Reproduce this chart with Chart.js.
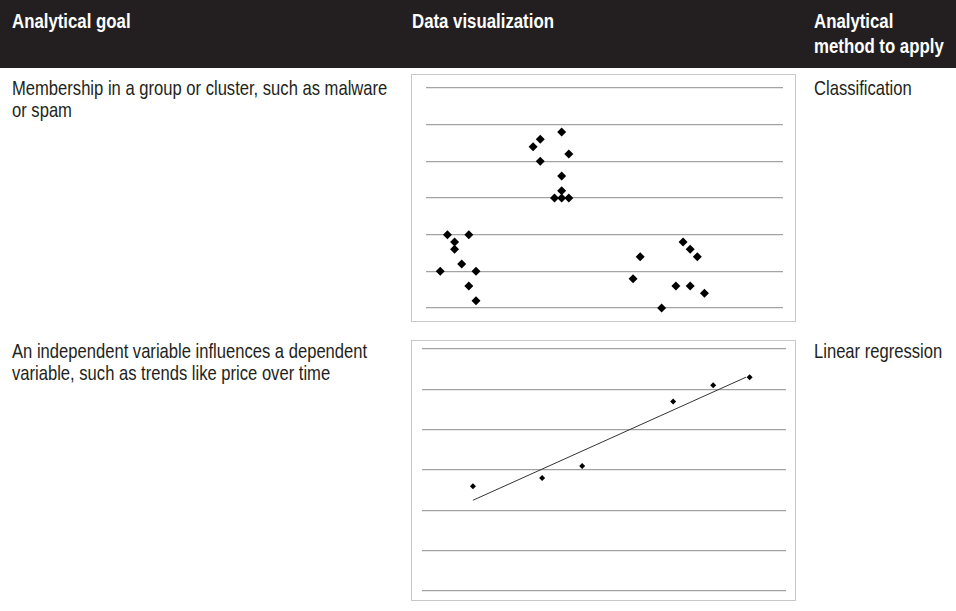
<!DOCTYPE html>
<html>
<head>
<meta charset="utf-8">
<script src="https://cdn.jsdelivr.net/npm/chart.js@4"></script>
<style>
  body { margin: 0; background: #fff; width: 956px; height: 611px; overflow: hidden; position: relative;
         font-family: "Liberation Sans", Arial, sans-serif; color: #231f20; }
  .head { position: absolute; left: 0; top: 0; width: 956px; height: 68px; background: #231f20; }
  .th { position: absolute; color: #fff; font-weight: bold; font-size: 21px; line-height: 25px;
        white-space: nowrap; transform: scaleX(0.8); transform-origin: 0 0; }
  .td { position: absolute; font-size: 21px; line-height: 22px;
        white-space: nowrap; transform: scaleX(0.79); transform-origin: 0 0; }
  .box { position: absolute; left: 411px; width: 385px; box-sizing: border-box; border: 1px solid #c9c9c9; }
  .box div { position: absolute; left: 0; top: 0; right: 0; bottom: 0; }
</style>
</head>
<body>
<div class="head"></div>
<div class="th" style="left:12px; top:8px;">Analytical goal</div>
<div class="th" style="left:412px; top:8px;">Data visualization</div>
<div class="th" style="left:814px; top:8px;">Analytical<br>method to apply</div>

<div class="td" style="left:12px; top:77px;">Membership in a group or cluster, such as malware<br>or spam</div>
<div class="td" style="left:814px; top:77px;">Classification</div>
<div class="box" style="top:74px; height:248px;"><div><canvas id="clusterChart"></canvas></div></div>

<div class="td" style="left:12px; top:340px;">An independent variable influences a dependent<br>variable, such as trends like price over time</div>
<div class="td" style="left:814px; top:340px;">Linear regression</div>
<div class="box" style="top:340px; height:261px;"><div><canvas id="regressionChart"></canvas></div></div>

<script>
// classification scatter: three clusters
const clusterX = [2, 3, 6, 4, 4, 5, 7, 6, 7,
                  15, 16, 19, 20, 16, 19, 19, 18, 19, 20,
                  30, 29, 33, 35, 37, 36, 37, 38, 39];
const clusterY = [5, 10, 10, 9, 8, 6, 5, 3, 1,
                  22, 23, 24, 21, 20, 18, 16, 15, 15, 15,
                  7, 4, 0, 3, 3, 9, 8, 7, 2];

// regression scatter + trend line
const priceX = [1.4, 3.3, 4.4, 6.9, 8.0, 9.0];
const priceY = [2.6, 2.8, 3.1, 4.7, 5.1, 5.3];
const trendX = [1.4, 8.9];
const trendY = [2.25, 5.3];

function toPoints(xs, ys) {
  return xs.map((x, i) => ({ x: x, y: ys[i] }));
}

function gridOptions(xMax, yMax, yStep, pad) {
  return {
    responsive: true,
    maintainAspectRatio: false,
    animation: false,
    layout: { padding: pad },
    plugins: { legend: { display: false }, tooltip: { enabled: false } },
    scales: {
      x: { type: "linear", min: 0, max: xMax, display: false },
      y: {
        min: 0, max: yMax,
        ticks: { display: false, stepSize: yStep },
        grid: { color: "#a3a3a3", lineWidth: 1.3, drawTicks: false },
        border: { display: false }
      }
    }
  };
}

new Chart(document.getElementById("clusterChart"), {
  type: "scatter",
  data: {
    datasets: [{
      data: toPoints(clusterX, clusterY),
      pointStyle: "rectRot",
      pointRadius: 4.5,
      backgroundColor: "#000",
      borderColor: "#000",
      borderWidth: 0,
      clip: false
    }]
  },
  options: gridOptions(50, 30, 5, { left: 14, right: 12, top: 13, bottom: 13 })
});

new Chart(document.getElementById("regressionChart"), {
  type: "scatter",
  data: {
    datasets: [
      {
        data: toPoints(priceX, priceY),
        pointStyle: "rectRot",
        pointRadius: 3,
        backgroundColor: "#000",
        borderColor: "#000",
        borderWidth: 0,
        clip: false
      },
      {
        type: "line",
        data: toPoints(trendX, trendY),
        borderColor: "#333",
        borderWidth: 1,
        pointRadius: 0,
        fill: false,
        clip: false
      }
    ]
  },
  options: gridOptions(10, 6, 1, { left: 10, right: 9, top: 8, bottom: 9 })
});
</script>
</body>
</html>
